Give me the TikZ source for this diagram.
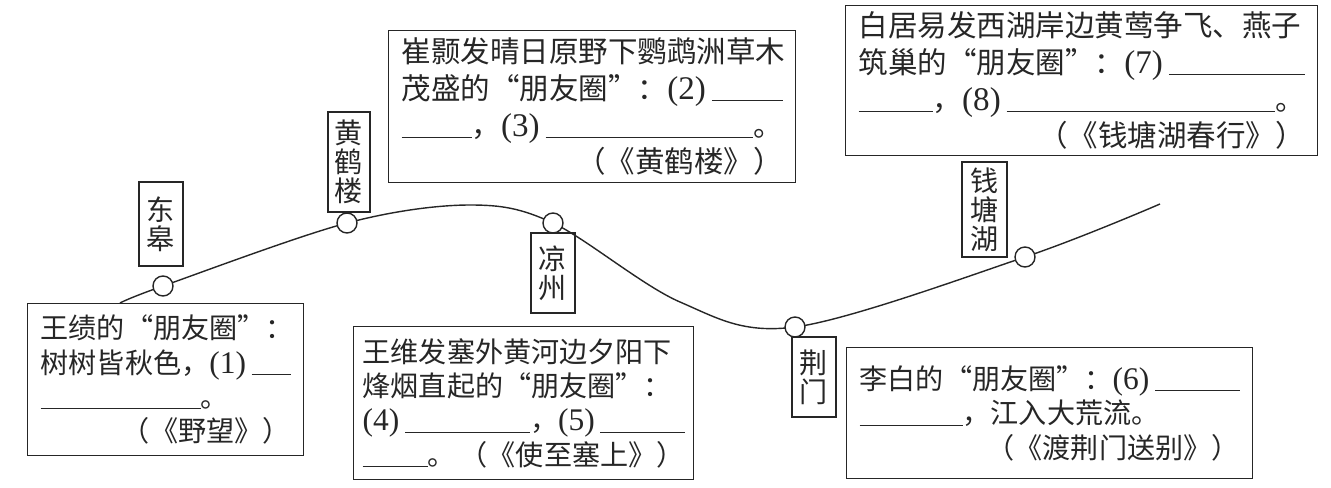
\documentclass[tikz,border=0pt]{standalone}
\usepackage{fontspec}
\setmainfont{Noto Sans CJK SC}
\newfontfamily\numfont[Scale=1.12]{Liberation Serif}
\usetikzlibrary{positioning}

\newcommand\poemfont{\fontsize{16pt}{19.5pt}\selectfont}
\newcommand\widefont{\fontsize{16.8pt}{20.8pt}\selectfont}
\newcommand\placefont{\fontsize{16pt}{16.5pt}\selectfont}
% blanks to be filled in
\newcommand\itemno[1]{{\numfont(#1)}\hspace{0.2em}}
\newcommand\fillin[1]{\rule[-1pt]{#1}{0.5pt}}
\newcommand\fillrule{\nobreak\leaders\hrule height -0.5pt depth 1pt\hskip 0pt plus 1fill\hbox{}}
\newcommand\pushright{\nobreak\hskip 0pt plus 1fill\relax}

\begin{document}
\begin{tikzpicture}[x=0.02cm, y=-0.02cm, line width=0.8pt, color=black!85,
    poem/.style={draw, anchor=north west, align=left, inner xsep=0.26cm, inner ysep=0.1cm, font=\poemfont},
    place/.style={draw, align=center, inner sep=0.05cm, font=\placefont},
    town/.style={circle, draw, fill=white, minimum size=0.4cm, inner sep=0pt}]
\useasboundingbox (0,0) rectangle (1331,487);

% the route
\coordinate (start) at (120,303);
\coordinate (dg) at (163,286);
\coordinate (hhl) at (347,223);
\coordinate (top) at (470,205);
\coordinate (lz) at (553,223);
\coordinate (down) at (680,302);
\coordinate (jm) at (795,327);
\coordinate (qth) at (1025,257);
\coordinate (end) at (1160,204);
\draw plot[smooth, tension=0.55] coordinates {(start) (dg) (hhl) (top) (lz) (down) (jm) (qth) (end)};
\foreach \p in {dg,hhl,lz,jm,qth}
    \node[town] (\p-c) at (\p) {};

% place names
\node[place, minimum width=0.88cm, minimum height=1.68cm] (dg-l) at (161,224) {东\\皋};
\node[place, minimum width=0.84cm, minimum height=2.0cm] (hhl-l) at (349,162) {黄\\鹤\\楼};
\node[place, minimum width=0.88cm, minimum height=1.6cm] (lz-l) at (553,273) {凉\\州};
\node[place, minimum width=0.88cm, minimum height=1.6cm] (jm-l) at (814,377) {荆\\门};
\node[place, minimum width=0.9cm, minimum height=1.9cm] (qth-l) at (984.5,209.5) {钱\\塘\\湖};

% the posts
\node[poem, text width=5.0cm, minimum height=3.04cm] (wj) at (27,303)
    {王绩的“朋友圈”：\\树树皆秋色，\itemno{1}\fillrule\\\fillin{3.2cm}。\\\pushright（《野望》）};
\node[poem, font=\widefont, text width=7.62cm, minimum height=3.04cm] (ch) at (388,30)
    {崔颢发晴日原野下鹦鹉洲草木\\茂盛的“朋友圈”：\itemno{2}\fillrule\\\fillin{1.4cm}，\itemno{3}\fillrule。\\\pushright（《黄鹤楼》）};
\node[poem, inner xsep=0.18cm, text width=6.44cm, minimum height=3.06cm] (ww) at (353,326)
    {王维发塞外黄河边夕阳下\\烽烟直起的“朋友圈”：\\\itemno{4}\fillin{2.5cm}，\itemno{5}\fillrule\\\fillin{1.3cm}。\pushright（《使至塞上》）};
\node[poem, text width=7.6cm, minimum height=2.62cm] (lb) at (846,347)
    {李白的“朋友圈”：\itemno{6}\fillrule\\\fillin{2.06cm}，江入大荒流。\\\pushright（《渡荆门送别》）};
\node[poem, font=\widefont, text width=8.92cm, minimum height=3.0cm] (bjy) at (845,5)
    {白居易发西湖岸边黄莺争飞、燕子\\筑巢的“朋友圈”：\itemno{7}\fillrule\\\fillin{1.48cm}，\itemno{8}\fillrule。\\\pushright（《钱塘湖春行》）};
\end{tikzpicture}
\end{document}
